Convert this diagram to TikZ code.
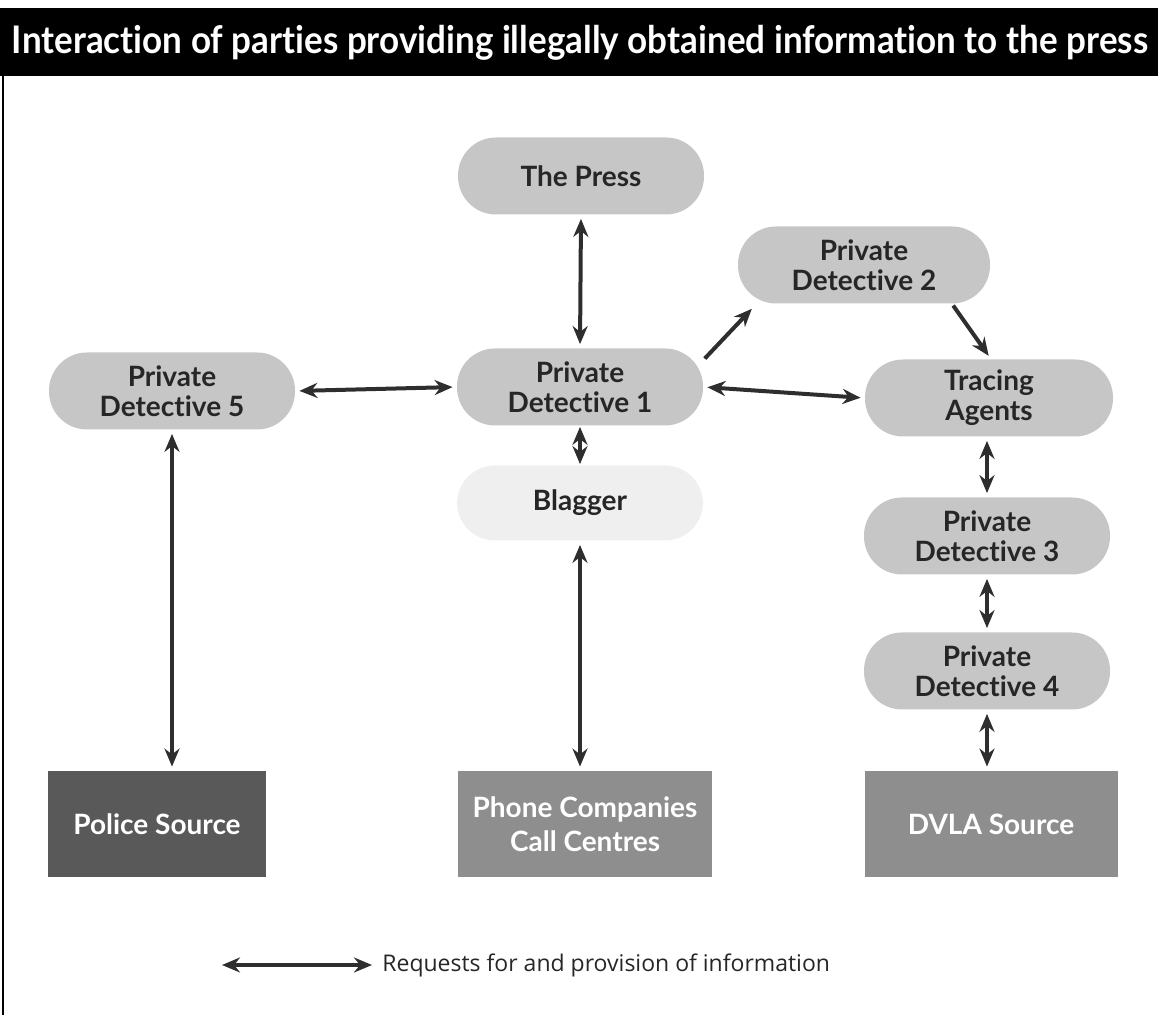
\documentclass[tikz,border=0pt]{standalone}
\usepackage{fontspec}
\setmainfont{Lato}[Ligatures=NoCommon]
\newfontfamily\legendfont{Open Sans}
\usetikzlibrary{arrows.meta}
\definecolor{pillgray}{HTML}{C6C6C6}
\definecolor{pilltxt}{HTML}{262626}
\definecolor{blaggray}{HTML}{EFEFEF}
\definecolor{policegray}{HTML}{595959}
\definecolor{srcgray}{HTML}{8E8E8E}
\definecolor{arrgray}{HTML}{2E2E2E}
\tikzset{
  pill/.style={fill=pillgray, rounded corners=19pt, minimum width=123pt, minimum height=38.5pt,
    inner sep=0pt, align=center, text=pilltxt, font=\bfseries\fontsize{14}{15}\selectfont},
  source/.style={minimum height=53pt, inner sep=0pt, align=center, text=white,
    font=\bfseries\fontsize{14}{17}\selectfont},
  link/.style={draw=arrgray, line width=2pt, {Stealth[length=9pt,width=7.5pt]}-{Stealth[length=9pt,width=7.5pt]},
    shorten >=2pt, shorten <=2pt},
  onelink/.style={draw=arrgray, line width=2pt, -{Stealth[length=9pt,width=7.5pt]},
    shorten >=2pt, shorten <=1pt}
}
\begin{document}
\begin{tikzpicture}[x=0.5pt,y=-0.5pt]
\useasboundingbox (0,0) rectangle (1158,1015);
% title bar
\fill[black] (0,8) rectangle (1158,76);
\node[text=white, font=\bfseries\fontsize{19}{22}\selectfont] (title) at (580,43)
  {\resizebox{568pt}{\height}{Interaction of parties providing illegally obtained information to the press}};
% left rule
\draw[line width=1pt] (3,76) -- (3,1015);

% nodes
\node[pill] (press) at (581,176) {The Press};
\node[pill] (pd1) at (580,387) {Private\\Detective 1};
\node[pill, minimum width=126pt] (pd2) at (864,265) {Private\\Detective 2};
\node[pill, minimum width=124pt] (ta) at (989,398) {Tracing\\Agents};
\node[pill] (pd5) at (172,391) {Private\\Detective 5};
\node[pill, fill=blaggray, minimum height=37.5pt] (blag) at (580,503) {Blagger};
\node[pill] (pd3) at (987,536) {Private\\Detective 3};
\node[pill] (pd4) at (987,671) {Private\\Detective 4};

\node[source, fill=policegray, minimum width=109pt] (police) at (157,824) {Police Source};
\node[source, fill=srcgray, minimum width=127pt] (phone) at (585,824) {Phone Companies\\Call Centres};
\node[source, fill=srcgray, minimum width=126.5pt] (dvla) at (991,824) {DVLA Source};

% connectors
\draw[link] (press.south) -- (pd1.north);
\draw[link] (pd5.east) -- (pd1.west);
\draw[onelink] ([yshift=13.5pt]pd1.east) -- ([xshift=8.5pt,yshift=-1pt]pd2.south west);
\draw[onelink] ([xshift=44pt]pd2.south) -- ([xshift=1pt]ta.north);
\draw[link] (pd1.east) -- (ta.west);
\draw[link, shorten >=0.5pt, shorten <=0.5pt] (pd1.south) -- (blag.north);
\draw[link] (blag.south) -- (blag.south |- phone.north);
\draw[link] (pd5.south) -- (pd5.south |- police.north);
\draw[link] ([xshift=-1pt]ta.south) -- (pd3.north);
\draw[link] (pd3.south) -- (pd4.north);
\draw[link] (pd4.south) -- (pd4.south |- dvla.north);

% legend
\coordinate (la) at (222,965);
\coordinate (lb) at (372,965);
\draw[link, shorten >=0pt, shorten <=0pt] (la) -- (lb);
\node[anchor=west, inner sep=0pt, text=black!85, font=\legendfont\fontsize{11.5}{13}\selectfont] (legend) at (382,965)
  {Requests for and provision of information};
\end{tikzpicture}
\end{document}
